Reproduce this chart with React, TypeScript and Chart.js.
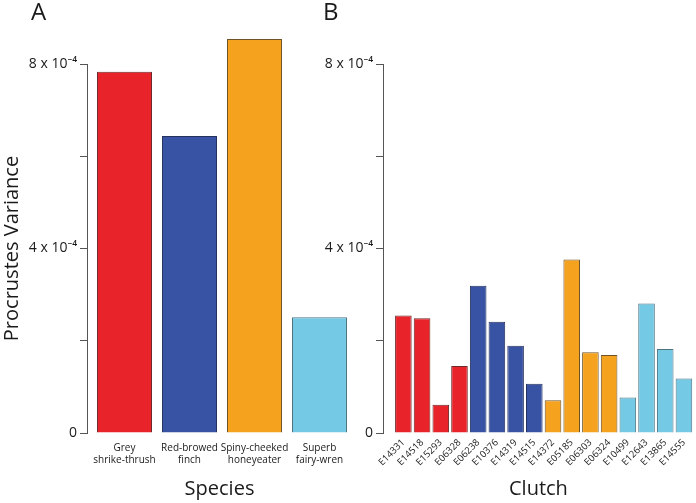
import React, { useEffect, useRef } from "react";
import { Chart, registerables } from "chart.js";

Chart.register(...registerables);

// ---- data ----
const speciesLabels: string[][] = [
  ["Grey", "shrike-thrush"],
  ["Red-browed", "finch"],
  ["Spiny-cheeked", "honeyeater"],
  ["Superb", "fairy-wren"],
];
const speciesValues: number[] = [7.83e-4, 6.44e-4, 8.54e-4, 2.51e-4];

const clutchLabels: string[] = [
  "E14331", "E14518", "E15293", "E06328",
  "E06238", "E10376", "E14319", "E14515",
  "E14372", "E05185", "E06303", "E06324",
  "E10499", "E12643", "E13865", "E14555",
];
const clutchValues: number[] = [
  2.55e-4, 2.49e-4, 0.61e-4, 1.45e-4,
  3.19e-4, 2.41e-4, 1.89e-4, 1.07e-4,
  0.71e-4, 3.76e-4, 1.75e-4, 1.69e-4,
  0.77e-4, 2.81e-4, 1.82e-4, 1.18e-4,
];
const clutchGroup: number[] = [0, 0, 0, 0, 1, 1, 1, 1, 2, 2, 2, 2, 3, 3, 3, 3];

const yTickValues: number[] = [0, 2e-4, 4e-4, 6e-4, 8e-4];
const yTickLabels: string[] = ["0", "", "4 x 10\u207B\u2074", "", "8 x 10\u207B\u2074"];

// ---- styles ----
const groupFill = ["#E8232A", "#3953A4", "#F5A31F", "#74C9E5"];
const groupBorder = ["#6e2a2a", "#26325e", "#6e5428", "#4e7482"];
const FONT = "'Open Sans', 'Noto Sans', sans-serif";
const TEXT = "#1a1a1a";
const AXIS = "#555555";

function yAxis(width: number, title: boolean) {
  return {
    min: 0,
    max: 8e-4,
    afterBuildTicks: (s: any) => {
      s.ticks = yTickValues.map((v) => ({ value: v }));
    },
    afterFit: (s: any) => {
      s.width = width;
    },
    ticks: {
      callback: (_v: any, i: number) => yTickLabels[i],
      font: { family: FONT, size: 14 },
      color: TEXT,
      padding: 3,
    },
    grid: { drawOnChartArea: false, drawTicks: true, tickLength: 7, color: AXIS },
    border: { color: AXIS, width: 1 },
    title: {
      display: title,
      text: "Procrustes Variance",
      font: { family: FONT, size: 20 },
      color: TEXT,
      padding: { top: 0, bottom: 0 },
    },
  };
}

function xAxis(
  min: number,
  max: number,
  labels: any[],
  rotation: number,
  fontSize: number,
  tickPad: number,
  titleText: string
) {
  return {
    type: "linear",
    offset: false,
    min,
    max,
    afterBuildTicks: (s: any) => {
      s.ticks = labels.map((_: any, i: number) => ({ value: i + 1 }));
    },
    afterFit: (s: any) => {
      s.height = 70;
    },
    ticks: {
      callback: (_v: any, i: number) => labels[i],
      autoSkip: false,
      maxRotation: rotation,
      minRotation: rotation,
      font: { family: FONT, size: fontSize, lineHeight: 1.2 },
      color: TEXT,
      padding: tickPad,
    },
    grid: { display: false, drawTicks: false, offset: false },
    border: { display: false },
    title: {
      display: true,
      text: titleText,
      font: { family: FONT, size: 20 },
      color: TEXT,
      padding: { top: 0, bottom: 2 },
    },
  };
}

function ChartA() {
  const ref = useRef<HTMLCanvasElement | null>(null);
  useEffect(() => {
    if (!ref.current) return;
    const chart = new Chart(ref.current, {
      type: "bar",
      data: {
        datasets: [
          {
            data: speciesValues.map((v, i) => ({ x: i + 1, y: v })) as any,
            backgroundColor: groupFill,
            borderColor: groupBorder,
            borderWidth: 1,
            barPercentage: 0.846,
            categoryPercentage: 1,
            clip: false as any,
          },
        ],
      },
      options: {
        animation: false,
        responsive: false,
        devicePixelRatio: 1,
        layout: { padding: { left: 0, top: 64, right: 8, bottom: 0 } },
        plugins: { legend: { display: false }, tooltip: { enabled: false } },
        scales: {
          x: xAxis(0.423, 4.5, speciesLabels, 0, 10, 9, "Species") as any,
          y: yAxis(87, true) as any,
        },
      },
    });
    return () => chart.destroy();
  }, []);
  return (
    <canvas
      ref={ref}
      width={360}
      height={503}
      style={{ position: "absolute", left: 0, top: 0, width: 360, height: 503 }}
    />
  );
}

function ChartB() {
  const ref = useRef<HTMLCanvasElement | null>(null);
  useEffect(() => {
    if (!ref.current) return;
    const chart = new Chart(ref.current, {
      type: "bar",
      data: {
        datasets: [
          {
            data: clutchValues.map((v, i) => ({ x: i + 1, y: v })) as any,
            backgroundColor: clutchGroup.map((g) => groupFill[g]),
            borderColor: clutchGroup.map((g) => groupBorder[g]),
            borderWidth: 1,
            barPercentage: 0.887,
            categoryPercentage: 1,
            clip: false as any,
          },
        ],
      },
      options: {
        animation: false,
        responsive: false,
        devicePixelRatio: 1,
        layout: { padding: { left: 0, top: 64, right: 0, bottom: 0 } },
        plugins: { legend: { display: false }, tooltip: { enabled: false } },
        scales: {
          x: xAxis(-0.089, 16.53, clutchLabels, 45, 9.5, 4, "Clutch") as any,
          y: yAxis(73, false) as any,
        },
      },
    });
    return () => chart.destroy();
  }, []);
  return (
    <canvas
      ref={ref}
      width={386}
      height={503}
      style={{ position: "absolute", left: 310, top: 0, width: 386, height: 503 }}
    />
  );
}

const panelLabel: React.CSSProperties = {
  position: "absolute",
  top: -1,
  fontFamily: FONT,
  fontSize: 24,
  lineHeight: "24px",
  color: TEXT,
};

export default function App() {
  return (
    <div
      style={{
        position: "fixed",
        left: 0,
        top: 0,
        width: 696,
        height: 503,
        background: "#ffffff",
        overflow: "hidden",
      }}
    >
      <ChartA />
      <ChartB />
      <div style={{ ...panelLabel, left: 31 }}>A</div>
      <div style={{ ...panelLabel, left: 323 }}>B</div>
    </div>
  );
}
